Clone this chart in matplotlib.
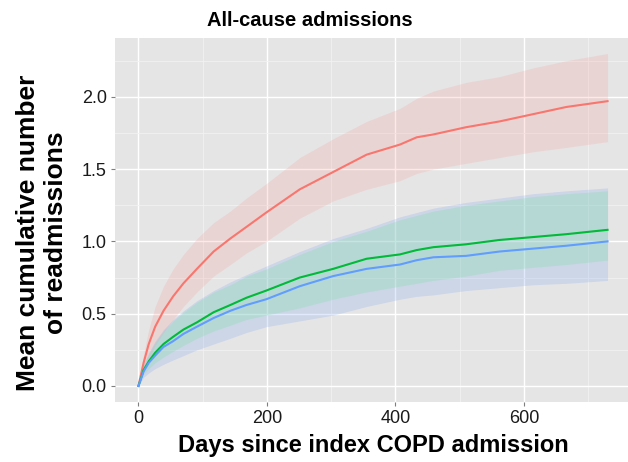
import numpy as np
import matplotlib.pyplot as plt
from matplotlib.ticker import MultipleLocator

plt.rcParams['font.family'] = ['Liberation Sans', 'DejaVu Sans']

days = [0, 8, 16, 26, 39, 54, 70, 91, 117, 143, 168, 199, 251, 303, 355, 407, 433, 459, 510, 562, 614, 666, 730]

red = [0.0, 0.16, 0.29, 0.41, 0.52, 0.62, 0.71, 0.81, 0.93, 1.02, 1.10, 1.20, 1.36, 1.48, 1.60, 1.67, 1.72, 1.74, 1.79, 1.83, 1.88, 1.93, 1.97]
red_hi = [0.0, 0.22, 0.39, 0.55, 0.69, 0.81, 0.91, 1.02, 1.13, 1.21, 1.30, 1.40, 1.58, 1.71, 1.83, 1.92, 1.99, 2.04, 2.10, 2.14, 2.20, 2.25, 2.30]
red_lo = [0.0, 0.10, 0.18, 0.28, 0.37, 0.46, 0.55, 0.65, 0.76, 0.84, 0.92, 1.00, 1.16, 1.28, 1.36, 1.42, 1.47, 1.50, 1.54, 1.58, 1.62, 1.65, 1.69]

green = [0.0, 0.11, 0.17, 0.23, 0.29, 0.34, 0.39, 0.44, 0.51, 0.56, 0.61, 0.66, 0.75, 0.81, 0.88, 0.91, 0.94, 0.96, 0.98, 1.01, 1.03, 1.05, 1.08]
green_hi = [0.0, 0.14, 0.22, 0.30, 0.38, 0.45, 0.51, 0.58, 0.65, 0.70, 0.76, 0.81, 0.91, 1.00, 1.07, 1.15, 1.18, 1.21, 1.25, 1.28, 1.31, 1.33, 1.35]
green_lo = [0.0, 0.08, 0.12, 0.16, 0.20, 0.24, 0.28, 0.33, 0.38, 0.42, 0.46, 0.49, 0.54, 0.60, 0.65, 0.69, 0.71, 0.73, 0.76, 0.80, 0.82, 0.84, 0.87]

blue = [0.0, 0.10, 0.16, 0.21, 0.27, 0.31, 0.36, 0.41, 0.47, 0.52, 0.56, 0.60, 0.69, 0.76, 0.81, 0.84, 0.87, 0.89, 0.90, 0.93, 0.95, 0.97, 1.00]
blue_hi = [0.0, 0.15, 0.23, 0.31, 0.39, 0.46, 0.52, 0.59, 0.66, 0.72, 0.77, 0.83, 0.93, 1.02, 1.09, 1.17, 1.20, 1.23, 1.27, 1.30, 1.33, 1.35, 1.37]
blue_lo = [0.0, 0.06, 0.09, 0.12, 0.15, 0.18, 0.21, 0.25, 0.29, 0.33, 0.37, 0.41, 0.45, 0.49, 0.55, 0.60, 0.62, 0.63, 0.66, 0.68, 0.70, 0.71, 0.73]

fig = plt.figure(figsize=(6.28, 4.62), dpi=100)
ax = fig.add_axes([115/628, 60/462, 516/628, 364/462])
ax.set_facecolor('#E5E5E5')

# ribbons (colours tuned to match the blended look of the original)
ax.fill_between(days, red_lo, red_hi, color='#FE9090', alpha=0.2, lw=0)
ax.fill_between(days, blue_lo, blue_hi, color='#6D9AF4', alpha=0.2, lw=0)
ax.fill_between(days, green_lo, green_hi, color='#84DDAC', alpha=0.3, lw=0)
ax.plot(days, red, color='#F8766D', lw=1.5)
ax.plot(days, green, color='#00BA38', lw=1.5)
ax.plot(days, blue, color='#619CFF', lw=1.5)

ax.set_xlim(-36.5, 766.5)
ax.set_ylim(-0.111, 2.407)
ax.xaxis.set_major_locator(MultipleLocator(200))
ax.xaxis.set_minor_locator(MultipleLocator(100))
ax.yaxis.set_major_locator(MultipleLocator(0.5))
ax.yaxis.set_minor_locator(MultipleLocator(0.25))
ax.yaxis.set_major_formatter(lambda v, p: f'{v:.1f}')
ax.grid(which='major', color='white', lw=1.0)
ax.grid(which='minor', color='#F2F2F2', lw=0.6)
ax.set_axisbelow(True)
for s in ax.spines.values():
    s.set_visible(False)
ax.tick_params(which='major', length=3, color='#7F7F7F', labelsize=13, labelcolor='#1A1A1A', pad=3)
ax.tick_params(which='minor', length=0)

ax.set_xlabel('Days since index COPD admission', fontsize=17, fontweight='bold', labelpad=5)
fig.text(42/628, 229/462, 'Mean cumulative number\nof readmissions', rotation=90,
         ha='center', va='center', multialignment='center',
         fontsize=19, fontweight='bold', linespacing=1.2)
fig.text(310/628, 1 - 20/462, 'All-cause admissions', ha='center', va='center', fontsize=14.5, fontweight='bold')

fig.savefig('out.png', dpi=100)
